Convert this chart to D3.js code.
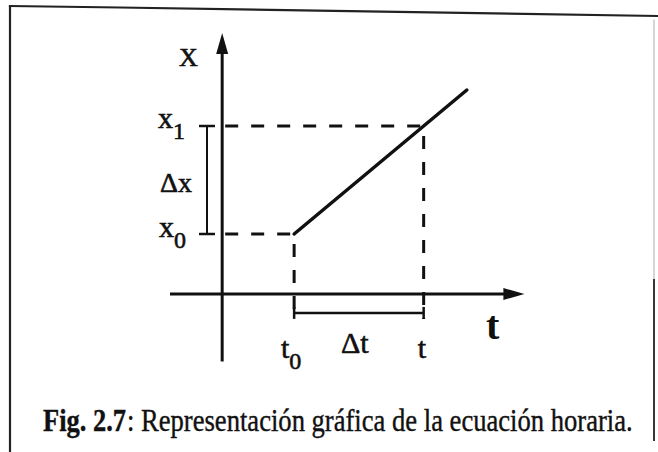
<!DOCTYPE html>
<html>
<head>
<meta charset="utf-8">
<script src="https://cdn.jsdelivr.net/npm/d3@7"></script>
<style>
  html, body { margin: 0; padding: 0; background: #ffffff; }
  svg { display: block; }
</style>
</head>
<body>
<svg id="fig" width="658" height="452"></svg>
<script>
// Uniform motion: x(t) = x0 + v (t - t0), drawn from t0 onwards
const tMarks = [2, 5.6];            // t0, t
const xMarks = [2, 5.6];            // x0, x1
const motionT = [2, 5.6, 6.8];
const motionX = [2, 5.6, 6.8];
const tAxisDomain = [-1.45, 8.4];
const xAxisDomain = [-2.25, 8.7];
const bracketLevel = -0.63;         // height of the Δt bracket, below the t axis
const captionBold = "Fig. 2.7";
const captionText = ": Representación gráfica de la ecuación horaria.";

const svg = d3.select("#fig");
const ink = "#111";
const serif = "'Liberation Serif', 'DejaVu Serif', 'Times New Roman', serif";

const sx = d3.scaleLinear().domain(tAxisDomain).range([170, 524.4]);
const sy = d3.scaleLinear().domain(xAxisDomain).range([361.5, 33]);

// page frame
const frame = svg.append("g").attr("fill", "none").attr("stroke-linecap", "square");
frame.append("path").attr("d", "M10,6 L120,7.5 L658,16").attr("stroke", "#222").attr("stroke-width", 2.2);
frame.append("line").attr("x1", 10).attr("y1", 6).attr("x2", 10).attr("y2", 452)
  .attr("stroke", "#222").attr("stroke-width", 2.2);
frame.append("line").attr("x1", 654).attr("y1", 20).attr("x2", 654).attr("y2", 280)
  .attr("stroke", "#bbb").attr("stroke-width", 1.2);
frame.append("line").attr("x1", 654).attr("y1", 280).attr("x2", 654).attr("y2", 440)
  .attr("stroke", "#222").attr("stroke-width", 1.8);

const g = svg.append("g");

// axes with arrow heads
const ox = sx(0), oy = sy(0);
const arrowLen = 21, arrowHalf = 6;
g.append("line")
  .attr("x1", sx(tAxisDomain[0])).attr("y1", oy)
  .attr("x2", sx(tAxisDomain[1]) - arrowLen + 2).attr("y2", oy)
  .attr("stroke", ink).attr("stroke-width", 3);
g.append("path")
  .attr("d", `M${sx(tAxisDomain[1])},${oy} L${sx(tAxisDomain[1]) - arrowLen},${oy - arrowHalf} L${sx(tAxisDomain[1]) - arrowLen},${oy + arrowHalf} Z`)
  .attr("fill", ink);
g.append("line")
  .attr("x1", ox).attr("y1", sy(xAxisDomain[0]))
  .attr("x2", ox).attr("y2", sy(xAxisDomain[1]) + arrowLen - 2)
  .attr("stroke", ink).attr("stroke-width", 3);
g.append("path")
  .attr("d", `M${ox},${sy(xAxisDomain[1])} L${ox - arrowHalf},${sy(xAxisDomain[1]) + arrowLen} L${ox + arrowHalf},${sy(xAxisDomain[1]) + arrowLen} Z`)
  .attr("fill", ink);

// dashed guides
const dash = "13,13";
xMarks.forEach((xv, i) => {
  g.append("line")
    .attr("x1", ox + 3).attr("y1", sy(xv))
    .attr("x2", sx(tMarks[i])).attr("y2", sy(xv))
    .attr("stroke", ink).attr("stroke-width", 3).attr("stroke-dasharray", dash);
});
tMarks.forEach((tv, i) => {
  g.append("line")
    .attr("x1", sx(tv)).attr("y1", sy(xMarks[i]) + 10)
    .attr("x2", sx(tv)).attr("y2", sy(bracketLevel) + 6)
    .attr("stroke", ink).attr("stroke-width", 3).attr("stroke-dasharray", dash);
});

// motion line
const line = d3.line().x((d, i) => sx(motionT[i])).y((d, i) => sy(motionX[i]));
g.append("path").datum(motionT).attr("d", line)
  .attr("fill", "none").attr("stroke", ink).attr("stroke-width", 3.5)
  .attr("stroke-linejoin", "round").attr("stroke-linecap", "round");

// Δx bracket
const bx = 207;
g.append("line").attr("x1", bx).attr("y1", sy(xMarks[0])).attr("x2", bx).attr("y2", sy(xMarks[1]))
  .attr("stroke", ink).attr("stroke-width", 2);
xMarks.forEach(xv => {
  g.append("line").attr("x1", bx - 8).attr("y1", sy(xv)).attr("x2", bx + 8).attr("y2", sy(xv))
    .attr("stroke", ink).attr("stroke-width", 2.5);
});

// Δt bracket
const by = sy(bracketLevel);
g.append("line").attr("x1", sx(tMarks[0])).attr("y1", by).attr("x2", sx(tMarks[1])).attr("y2", by)
  .attr("stroke", ink).attr("stroke-width", 2.5);
tMarks.forEach(tv => {
  g.append("line").attr("x1", sx(tv)).attr("y1", by - 6).attr("x2", sx(tv)).attr("y2", by + 6)
    .attr("stroke", ink).attr("stroke-width", 2.5);
});

// labels (a thin outline gives the heavier printed look)
function label(x, y, main, sub, size, anchor) {
  const t = g.append("text").attr("x", x).attr("y", y)
    .attr("font-family", serif).attr("font-size", size).attr("fill", ink)
    .attr("stroke", ink).attr("stroke-width", 0.6)
    .attr("text-anchor", anchor || "start");
  t.append("tspan").text(main);
  if (sub) t.append("tspan").attr("dy", size * 0.36).attr("font-size", size * 0.8).text(sub);
  return t;
}
label(179, 66, "X", null, 26);
label(158, sy(xMarks[1]) + 2, "x", "1", 30);
label(159, sy(xMarks[0]) + 3, "x", "0", 30);
label(160, 192, "Δx", null, 28);
label(281, 358, "t", "0", 30);
label(341, 353, "Δt", null, 30);
label(sx(tMarks[1]) - 6, 358, "t", null, 30);
label(486, 339, "t", null, 40).attr("font-weight", "bold").attr("stroke-width", 0);

// caption: condensed type, each part squeezed horizontally to its span
function captionPart(text, x0, x1, bold) {
  const t = svg.append("text").attr("x", 0).attr("y", 0)
    .attr("font-family", serif).attr("font-size", 32).attr("fill", ink)
    .attr("stroke", ink).attr("stroke-width", 0.4)
    .attr("font-weight", bold ? "bold" : "normal")
    .text(text);
  const w = t.node().getComputedTextLength();
  t.attr("transform", `translate(${x0},431) scale(${(x1 - x0) / w},1)`);
}
captionPart(captionBold, 43, 126, true);
captionPart(captionText, 127, 633, false);
</script>
</body>
</html>
